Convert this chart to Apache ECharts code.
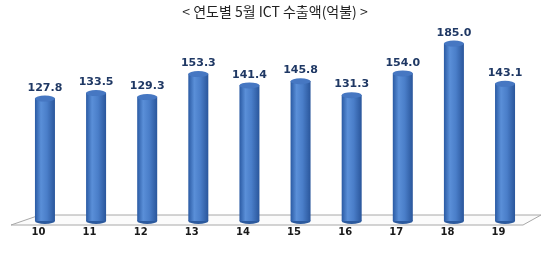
<!DOCTYPE html>
<html>
<head>
<meta charset="utf-8">
<script src="https://cdn.jsdelivr.net/npm/echarts@6/dist/echarts.min.js"></script>
<style>
html,body{margin:0;padding:0;background:#fff;}
#chart{width:550px;height:253px;}
</style>
</head>
<body>
<div id="chart"></div>
<script>
const titleText = '< 연도별 5월 ICT 수출액(억불) >';
const categories = ['10','11','12','13','14','15','16','17','18','19'];
const values = [127.8, 133.5, 129.3, 153.3, 141.4, 145.8, 131.3, 154.0, 185.0, 143.1];

const chart = echarts.init(document.getElementById('chart'), null, {renderer: 'canvas'});

const bodyGradient = new echarts.graphic.LinearGradient(0, 0, 1, 0, [
  {offset: 0, color: '#2a5aa3'},
  {offset: 0.3, color: '#5a8fd8'},
  {offset: 0.6, color: '#4a7ec9'},
  {offset: 1, color: '#2a569b'}
]);

const option = {
  animation: false,
  backgroundColor: '#ffffff',
  title: {
    text: titleText,
    left: 'center',
    top: 0,
    textStyle: {fontFamily: '"Noto Sans CJK KR", sans-serif', fontSize: 14, fontWeight: 'normal', color: '#222'}
  },
  graphic: [{
    type: 'polygon',
    z: 0,
    shape: {points: [[11,225],[40,215],[541,215],[523,225]]},
    style: {fill: '#fbfbfb', stroke: '#a8a8a8', lineWidth: 1}
  }],
  grid: {left: 19.4, right: 19.4, top: 29, bottom: 32},
  xAxis: {
    type: 'category',
    data: categories,
    axisLine: {show: false},
    axisTick: {show: false},
    axisLabel: {
      margin: 6,
      padding: [0, 13, 0, 0],
      fontFamily: 'DejaVu Sans',
      fontWeight: 'bold',
      fontSize: 10,
      color: '#1a1a1a'
    }
  },
  yAxis: {
    type: 'value',
    min: 0,
    max: 200,
    show: false,
    splitLine: {show: false}
  },
  series: [
    {
      type: 'bar',
      data: values,
      barWidth: 20,
      z: 2,
      itemStyle: {color: bodyGradient},
      label: {
        show: true,
        position: 'top',
        distance: 5,
        formatter: p => p.value.toFixed(1),
        fontFamily: 'DejaVu Sans',
        fontWeight: 'bold',
        fontSize: 11,
        color: '#1f3864'
      }
    },
    {
      type: 'pictorialBar',
      data: values,
      symbol: 'circle',
      symbolSize: [20, 6],
      symbolPosition: 'end',
      symbolOffset: [0, '-50%'],
      z: 3,
      itemStyle: {color: '#4677c2', borderColor: '#2d5a9e', borderWidth: 0.8}
    },
    {
      type: 'pictorialBar',
      data: values,
      symbol: 'circle',
      symbolSize: [20, 6],
      symbolPosition: 'start',
      symbolOffset: [0, '50%'],
      z: 1,
      itemStyle: {color: '#2c5a9e'}
    }
  ]
};
chart.setOption(option);
</script>
</body>
</html>
